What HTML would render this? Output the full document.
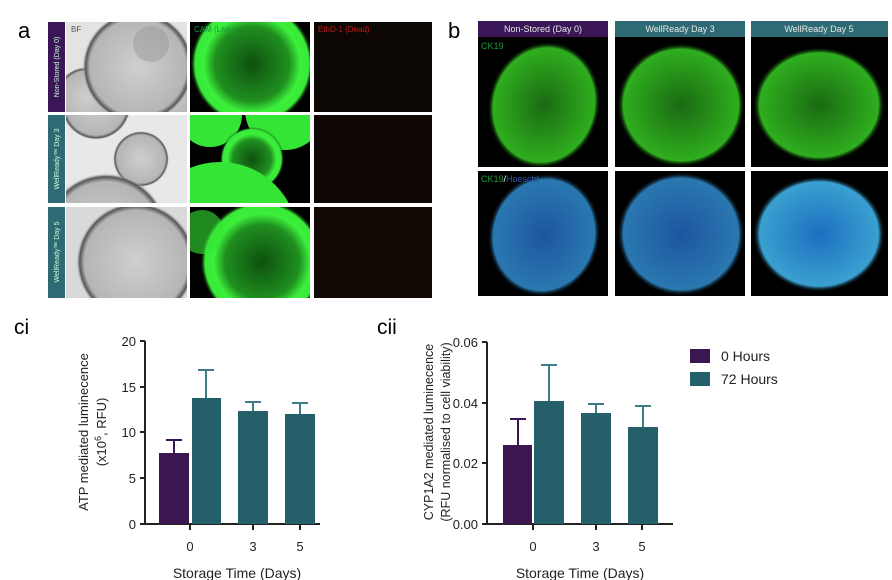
<!DOCTYPE html>
<html><head><meta charset="utf-8"><style>
body{margin:0;background:#fff;}
svg{display:block;font-family:"Liberation Sans",sans-serif;}
</style></head><body>
<svg width="892" height="580" viewBox="0 0 892 580" xmlns="http://www.w3.org/2000/svg">
<defs>
<radialGradient id="gr" cx="50%" cy="50%" r="50%"><stop offset="0" stop-color="#0e500e"/><stop offset="0.6" stop-color="#1f8f1f"/><stop offset="0.78" stop-color="#3cf03c"/><stop offset="0.92" stop-color="#38e838"/><stop offset="1" stop-color="#000" stop-opacity="0"/></radialGradient>
<radialGradient id="gb" cx="50%" cy="50%" r="50%"><stop offset="0" stop-color="#cfcfcf"/><stop offset="0.86" stop-color="#b5b5b5"/><stop offset="0.94" stop-color="#555"/><stop offset="1" stop-color="#ddd" stop-opacity="0"/></radialGradient>
<radialGradient id="ck" cx="50%" cy="50%" r="50%"><stop offset="0" stop-color="#1a6a12"/><stop offset="0.9" stop-color="#2fae1e"/><stop offset="1" stop-color="#000" stop-opacity="0"/></radialGradient>
<radialGradient id="hb" cx="50%" cy="50%" r="50%"><stop offset="0" stop-color="#1d55a0"/><stop offset="0.9" stop-color="#2a78b0"/><stop offset="1" stop-color="#000" stop-opacity="0"/></radialGradient>
<radialGradient id="hb2" cx="50%" cy="50%" r="50%"><stop offset="0" stop-color="#1d6fc0"/><stop offset="0.9" stop-color="#3aa0d0"/><stop offset="1" stop-color="#000" stop-opacity="0"/></radialGradient>
</defs>
<text x="18" y="38" font-size="22">a</text>
<text x="448" y="38" font-size="22">b</text>
<!-- panel a -->
<rect x="48" y="22" width="17" height="90" fill="#3b1656"/>
<rect x="48" y="115" width="17" height="88" fill="#2d6a73"/>
<rect x="48" y="207" width="17" height="91" fill="#2d6a73"/>
<g font-size="7" fill="#cfd" text-anchor="middle">
<text transform="translate(59,67) rotate(-90)">Non-Stored (Day 0)</text>
<text transform="translate(59,159) rotate(-90)">WellReady™ Day 3</text>
<text transform="translate(59,252) rotate(-90)">WellReady™ Day 5</text>
</g>
<svg x="66" y="22" width="121" height="90"><rect width="121" height="90" fill="#e3e3e3"/><circle cx="20" cy="75" r="30" fill="url(#gb)"/><circle cx="105" cy="75" r="25" fill="url(#gb)"/><circle cx="72" cy="45" r="56" fill="url(#gb)"/><circle cx="85" cy="22" r="18" fill="#999" opacity="0.5"/></svg>
<svg x="66" y="115" width="121" height="88"><rect width="121" height="88" fill="#e8e8e8"/><circle cx="75" cy="44" r="28" fill="url(#gb)"/><circle cx="40" cy="120" r="62" fill="url(#gb)"/><circle cx="30" cy="-10" r="35" fill="url(#gb)"/></svg>
<svg x="66" y="207" width="121" height="91"><rect width="121" height="91" fill="#d9d9d9"/><circle cx="70" cy="55" r="60" fill="url(#gb)"/></svg>
<svg x="190" y="22" width="120" height="90"><rect width="120" height="90" fill="#000"/><circle cx="62" cy="42" r="62" fill="url(#gr)"/></svg>
<svg x="190" y="115" width="120" height="88"><rect width="120" height="88" fill="#000"/><circle cx="20" cy="0" r="32" fill="#35e535"/><circle cx="95" cy="-5" r="40" fill="#35e535"/><circle cx="62" cy="44" r="32" fill="url(#gr)"/><circle cx="30" cy="125" r="78" fill="#35e535"/></svg>
<svg x="190" y="207" width="120" height="91"><rect width="120" height="91" fill="#000"/><circle cx="60" cy="50" r="22" fill="#0a3a0a"/><circle cx="72" cy="55" r="62" fill="url(#gr)"/><circle cx="12" cy="25" r="22" fill="#35e535" opacity="0.6"/></svg>
<rect x="314" y="22" width="118" height="90" fill="#0d0704"/>
<rect x="314" y="115" width="118" height="88" fill="#0f0805"/>
<rect x="314" y="207" width="118" height="91" fill="#130a05"/>
<g font-size="8">
<text x="71" y="32" fill="#555">BF</text>
<text x="194" y="32" fill="#1a9a3a">CAM (Live)</text>
<text x="318" y="32" fill="#c01818">EthD-1 (Dead)</text>
</g>
<!-- panel b -->
<rect x="478" y="21" width="130" height="16" fill="#3b1656"/>
<rect x="615" y="21" width="130" height="16" fill="#2d6a73"/>
<rect x="751" y="21" width="137" height="16" fill="#2d6a73"/>
<g font-size="9" fill="#e8e8e8" text-anchor="middle">
<text x="543" y="32">Non-Stored (Day 0)</text>
<text x="680" y="32">WellReady   Day 3</text>
<text x="819" y="32">WellReady   Day 5</text>
</g>
<svg x="478" y="37" width="130" height="130"><rect width="130" height="130" fill="#000"/><ellipse cx="66" cy="68" rx="56" ry="64" fill="url(#ck)" transform="rotate(15 66 68)"/></svg>
<svg x="615" y="37" width="130" height="130"><rect width="130" height="130" fill="#000"/><ellipse cx="66" cy="68" rx="64" ry="62" fill="url(#ck)"/></svg>
<svg x="751" y="37" width="137" height="130"><rect width="137" height="130" fill="#000"/><ellipse cx="68" cy="68" rx="66" ry="58" fill="url(#ck)"/></svg>
<svg x="478" y="171" width="130" height="125"><rect width="130" height="125" fill="#000"/><ellipse cx="66" cy="64" rx="56" ry="62" fill="url(#hb)" transform="rotate(15 66 64)"/></svg>
<svg x="615" y="171" width="130" height="125"><rect width="130" height="125" fill="#000"/><ellipse cx="66" cy="63" rx="64" ry="62" fill="url(#hb)"/></svg>
<svg x="751" y="171" width="137" height="125"><rect width="137" height="125" fill="#000"/><ellipse cx="68" cy="63" rx="66" ry="58" fill="url(#hb2)"/></svg>
<g font-size="9">
<text x="481" y="49" fill="#1e9a3a">CK19</text>
<text x="481" y="182" fill="#1e9a3a">CK19<tspan fill="#fff">/</tspan><tspan fill="#3050b0">Hoescht</tspan></text>
</g>
<!-- chart ci -->
<text x="14" y="334" font-size="21">ci</text>
<g stroke="#222" stroke-width="2" fill="none">
<path d="M145 341 V524 H320"/>
<path d="M140 341 H145 M140 387 H145 M140 432 H145 M140 478 H145 M140 524 H145"/>
<path d="M190 524 V530 M253 524 V530 M300 524 V530"/>
</g>
<g font-size="13" fill="#222" text-anchor="end">
<text x="136" y="346">20</text><text x="136" y="392">15</text><text x="136" y="437">10</text><text x="136" y="483">5</text><text x="136" y="529">0</text>
</g>
<g font-size="13" fill="#222" text-anchor="middle">
<text x="190" y="551">0</text><text x="253" y="551">3</text><text x="300" y="551">5</text>
<text x="237" y="578" font-size="14">Storage Time (Days)</text>
<text transform="translate(88,432) rotate(-90)" font-size="13">ATP mediated luminecence</text>
<text transform="translate(106,432) rotate(-90)" font-size="13">(x10<tspan font-size="9" dy="-5">6</tspan><tspan dy="5">, RFU)</tspan></text>
</g>
<g stroke-width="2">
<path d="M174 453 V440 M166 440 H182" stroke="#3b1656"/>
<path d="M206 398 V370 M198 370 H214" stroke="#3f7d86"/>
<path d="M253 411 V402 M245 402 H261" stroke="#3f7d86"/>
<path d="M300 414 V403 M292 403 H308" stroke="#3f7d86"/>
</g>
<rect x="159" y="453" width="30" height="71" fill="#3b1650"/>
<rect x="192" y="398" width="29" height="126" fill="#245f6a"/>
<rect x="238" y="411" width="30" height="113" fill="#245f6a"/>
<rect x="285" y="414" width="30" height="110" fill="#245f6a"/>
<!-- chart cii -->
<text x="377" y="334" font-size="21">cii</text>
<g stroke="#222" stroke-width="2" fill="none">
<path d="M487 342 V524 H673"/>
<path d="M482 342 H487 M482 403 H487 M482 463 H487 M482 524 H487"/>
<path d="M533 524 V530 M596 524 V530 M642 524 V530"/>
</g>
<g font-size="13" fill="#222" text-anchor="end">
<text x="478" y="347">0.06</text><text x="478" y="408">0.04</text><text x="478" y="468">0.02</text><text x="478" y="529">0.00</text>
</g>
<g font-size="13" fill="#222" text-anchor="middle">
<text x="533" y="551">0</text><text x="596" y="551">3</text><text x="642" y="551">5</text>
<text x="580" y="578" font-size="14">Storage Time (Days)</text>
<text transform="translate(433,432) rotate(-90)" font-size="12.5">CYP1A2 mediated luminecence</text>
<text transform="translate(450,432) rotate(-90)" font-size="12.5">(RFU normalised to cell viability)</text>
</g>
<g stroke-width="2">
<path d="M518 445 V419 M510 419 H526" stroke="#3b1656"/>
<path d="M549 401 V365 M541 365 H557" stroke="#3f7d86"/>
<path d="M596 413 V404 M588 404 H604" stroke="#3f7d86"/>
<path d="M643 427 V406 M635 406 H651" stroke="#3f7d86"/>
</g>
<rect x="503" y="445" width="29" height="79" fill="#3b1650"/>
<rect x="534" y="401" width="30" height="123" fill="#245f6a"/>
<rect x="581" y="413" width="30" height="111" fill="#245f6a"/>
<rect x="628" y="427" width="30" height="97" fill="#245f6a"/>
<rect x="690" y="349" width="20" height="14" fill="#3b1650"/>
<rect x="690" y="372" width="20" height="14" fill="#245f6a"/>
<g font-size="14" fill="#222"><text x="721" y="361">0 Hours</text><text x="721" y="384">72 Hours</text></g>
</svg>
</body></html>
